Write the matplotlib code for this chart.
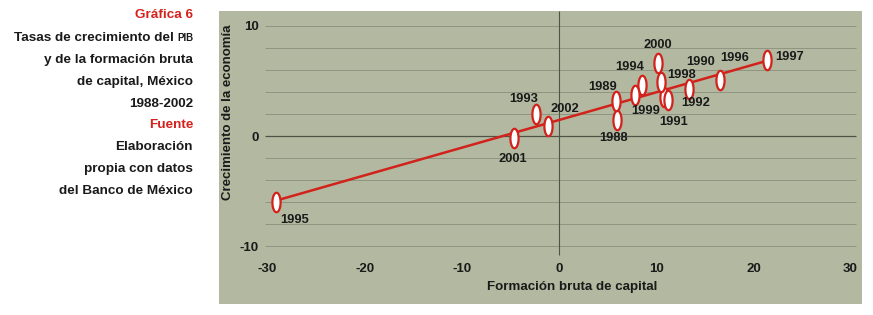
import numpy as np
import matplotlib
matplotlib.use("Agg")
import matplotlib.pyplot as plt
from matplotlib.path import Path
from matplotlib.patches import Rectangle

# ---------- datos ----------
years = ['1988', '1989', '1990', '1991', '1992', '1993', '1994', '1995',
         '1996', '1997', '1998', '1999', '2000', '2001', '2002']
fbk = [5.99, 5.86, 10.84, 11.2, 13.4, -2.38, 8.53, -29.1,
       16.6, 21.4, 10.5, 7.82, 10.16, -4.63, -1.18]        # formación bruta de capital
pib = [1.45, 3.17, 3.5, 3.3, 4.25, 1.99, 4.62, -5.95,
       5.07, 6.88, 4.91, 3.71, 6.63, -0.21, 0.92]           # crecimiento de la economía
# desplazamiento de cada etiqueta (pixeles)
lab_dx = [-4, -13, 36, 6, 6, -12, -12, 18, 14, 23, 21, 11, 0, -1, 17]
lab_dy = [-18, 14, 35, -22, -14, 15, 18, -18, 22, 3, 7, -16, 18, -21, 17]

trend_slope = 0.251
trend_icpt = 1.45

xticks = [-30, -20, -10, 0, 10, 20, 30]
yticks = [-10, 0, 10]
grid_y = [-10, -8, -6, -4, -2, 2, 4, 6, 8, 10]

RED = '#d2221c'
PANEL = '#b3b9a0'
INK = '#1a1a1a'
plt.rcParams['font.family'] = ['Liberation Sans', 'DejaVu Sans']
plt.rcParams['font.weight'] = 'bold'
plt.rcParams['axes.unicode_minus'] = False

W, H = 873, 315
fig = plt.figure(figsize=(W / 100, H / 100), dpi=100, facecolor='white')

# fondo del panel
fig.patches.append(Rectangle((219 / W, 1 - 304 / H), (862 - 219) / W, (304 - 11) / H,
                             transform=fig.transFigure, facecolor=PANEL,
                             edgecolor='none', zorder=-10))

left, right, top, bottom = 261.6, 860.3, 11.4, 257.3
ax = fig.add_axes([left / W, 1 - bottom / H, (right - left) / W, (bottom - top) / H])
ax.set_facecolor('none')
ax.set_xlim(-30.6, 31)
ax.set_ylim(-11, 11.3)
for s in ax.spines.values():
    s.set_visible(False)

ax.hlines(grid_y, -30.3, 30.6, colors='#8e9480', linewidth=0.7, zorder=1)
ax.hlines([0], -30.3, 30.6, colors='#4f5347', linewidth=0.9, zorder=1)
ax.vlines([0], -10.8, 11.3, colors='#4f5347', linewidth=0.8, zorder=1)

ax.set_xticks(xticks)
ax.set_yticks(yticks)
ax.tick_params(length=0, labelsize=9.5, colors=INK)
ax.tick_params(axis='x', pad=4)
ax.tick_params(axis='y', pad=2)

# línea de tendencia
xs = np.array([min(fbk), max(fbk)])
ax.plot(xs, trend_icpt + trend_slope * xs, color=RED, linewidth=1.8, zorder=2)

# marcador elíptico vertical
t = np.linspace(0, 2 * np.pi, 60)
ellipse = Path(np.column_stack([0.42 * np.cos(t), np.sin(t)]), closed=True)
ax.plot(fbk, pib, linestyle='none', marker=ellipse, markersize=14,
        markerfacecolor='white', markeredgecolor=RED, markeredgewidth=1.6, zorder=3)

for yr, x, y, dx, dy in zip(years, fbk, pib, lab_dx, lab_dy):
    ax.annotate(yr, (x, y), xytext=(dx, dy), textcoords='offset pixels',
                ha='center', va='center', fontsize=9.3, color=INK, zorder=4)

fig.text(572 / W, 1 - 287 / H, 'Formación bruta de capital', ha='center', va='center',
         fontsize=9.6, color=INK)
fig.text(228 / W, 1 - 112 / H, 'Crecimiento de la economía', ha='center', va='center',
         rotation=90, fontsize=9.5, color=INK)

# texto lateral
xr = 193 / W
fs = 9.7
side = [('Gráfica 6', RED, 15), (None, INK, 38), ('y de la formación bruta', INK, 60),
        ('de capital, México', INK, 82), ('1988-2002', INK, 104), ('Fuente', RED, 125),
        ('Elaboración', INK, 147), ('propia con datos', INK, 169),
        ('del Banco de México', INK, 191)]
for txt, col, ypx in side:
    if txt is None:
        p = fig.text(xr, 1 - ypx / H, 'PIB', ha='right', va='center', fontsize=7,
                     color=col)
        r = fig.canvas.get_renderer()
        wpx = p.get_window_extent(r).width
        fig.text(xr - (wpx + 3) / W, 1 - ypx / H, 'Tasas de crecimiento del', ha='right',
                 va='center', fontsize=fs, color=col)
    else:
        fig.text(xr, 1 - ypx / H, txt, ha='right', va='center', fontsize=fs, color=col)

fig.savefig('out.png', dpi=100, facecolor='white')
